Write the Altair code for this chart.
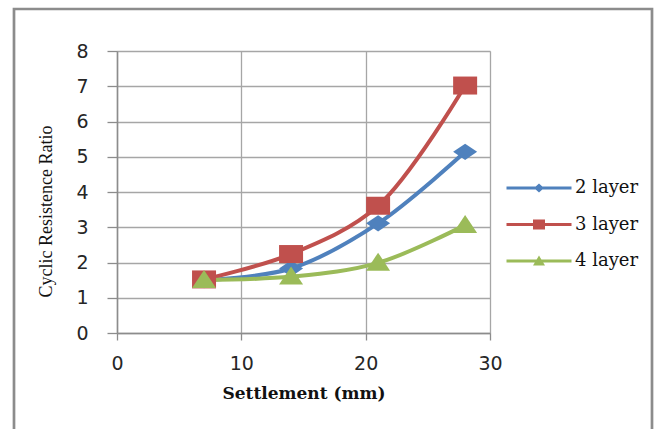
import altair as alt
import pandas as pd

# Settlement (mm) at each loading stage
settlement = [7, 14, 21, 28]

# Cyclic resistance ratio for each geogrid arrangement
crr_2_layer = [1.5, 1.83, 3.11, 5.14]
crr_3_layer = [1.52, 2.24, 3.61, 7.02]
crr_4_layer = [1.5, 1.6, 1.99, 3.06]

series_names = ["2 layer", "3 layer", "4 layer"]
series_colors = ["#4F81BD", "#C0504D", "#9BBB59"]

rows = []
for name, vals in zip(series_names, [crr_2_layer, crr_3_layer, crr_4_layer]):
    for s, v in zip(settlement, vals):
        rows.append({"series": name, "settlement": s, "crr": v})
df = pd.DataFrame(rows)

# Marker outlines (unit coordinates, scaled by mark size)
diamond = "M-1,0 L0,-0.68 L1,0 L0,0.68 Z"
square = "M-1,-0.75 L1,-0.75 L1,0.75 L-1,0.75 Z"
triangle = "M-1,0.65 L0,-0.85 L1,0.65 Z"
markers = [diamond, square, triangle]

# Legend symbols: a short line with a small marker on it
bar = "M-3.25,-0.15 L3.25,-0.15 L3.25,0.15 L-3.25,0.15 Z "
legend_symbols = [
    bar + "M-0.5,0 L0,-0.45 L0.5,0 L0,0.45 Z",
    bar + "M-0.6,-0.5 L0.6,-0.5 L0.6,0.5 L-0.6,0.5 Z",
    bar + "M-0.6,0.45 L0,-0.55 L0.6,0.45 Z",
]

grid_col = "#a6a6a6"
axis_col = "#8c8c8c"

x_enc = alt.X(
    "settlement:Q",
    scale=alt.Scale(domain=[0, 30], nice=False),
    axis=alt.Axis(
        values=[0, 10, 20, 30], grid=True, gridColor=grid_col, gridWidth=1.3,
        domainColor=axis_col, domainWidth=1.5, tickColor=axis_col, tickWidth=1.3,
        tickSize=7, labelPadding=14, labelFlush=False, labelFont="DejaVu Sans",
        labelFontSize=19, labelColor="#262626", title="Settlement (mm)",
        titleFont="DejaVu Serif", titleFontWeight="bold", titleFontSize=17,
        titleColor="#111111", titlePadding=12,
    ),
)
y_enc = alt.Y(
    "crr:Q",
    scale=alt.Scale(domain=[0, 8], nice=False),
    axis=alt.Axis(
        values=list(range(0, 9)), grid=True, gridColor=grid_col, gridWidth=1.3,
        domainColor=axis_col, domainWidth=1.5, tickColor=axis_col, tickWidth=1.3,
        tickSize=10, labelPadding=19, labelFlush=False, labelFont="DejaVu Sans",
        labelFontSize=19, labelColor="#262626", title="Cyclic Resistence Ratio",
        titleFont="Liberation Serif", titleFontWeight="normal", titleFontSize=18,
        titleColor="#111111", titleX=-62, titleY=160,
    ),
)

base = alt.Chart(df)

# Outer chart border
frame = alt.Chart(alt.Data(values=[{"k": 1}])).mark_rect(
    fillOpacity=0, stroke="#8c8c8c", strokeWidth=2.7
).encode(
    x=alt.value(-103), x2=alt.value(535), y=alt.value(-42), y2=alt.value(400)
)

line_layers = [
    base.transform_filter(alt.datum.series == name)
    .mark_line(interpolate="catmull-rom", strokeWidth=4, color=col)
    .encode(x=x_enc, y=y_enc)
    for name, col in zip(series_names, series_colors)
]

point_layers = [
    base.transform_filter(alt.datum.series == name)
    .mark_point(shape=shape, filled=True, size=576, opacity=1, color=col)
    .encode(x=x_enc, y=y_enc)
    for name, shape, col in zip(series_names, markers, series_colors)
]

legend_spec = alt.Legend(
    orient="none", legendX=412, legendY=127, title=None, padding=0,
    symbolSize=400, symbolStrokeWidth=0, symbolOpacity=1,
    labelFont="DejaVu Serif", labelFontSize=18, labelColor="#111111",
    labelOffset=26, rowPadding=17.5,
)

# Invisible marks that carry the series legend
legend_layer = base.mark_point(filled=True, opacity=0).encode(
    x=x_enc, y=y_enc,
    color=alt.Color("series:N", scale=alt.Scale(domain=series_names, range=series_colors),
                    legend=legend_spec),
    shape=alt.Shape("series:N", scale=alt.Scale(domain=series_names, range=legend_symbols),
                    legend=legend_spec),
)

chart = alt.layer(frame, *line_layers, *point_layers, legend_layer).properties(
    width=373,
    height=282,
    autosize=alt.AutoSizeParams(type="none"),
    padding={"left": 117, "top": 51, "right": 168, "bottom": 96},
).configure_view(stroke=None).configure(background="white")

chart.save("out.html", embed_options={"renderer": "svg", "actions": False})
